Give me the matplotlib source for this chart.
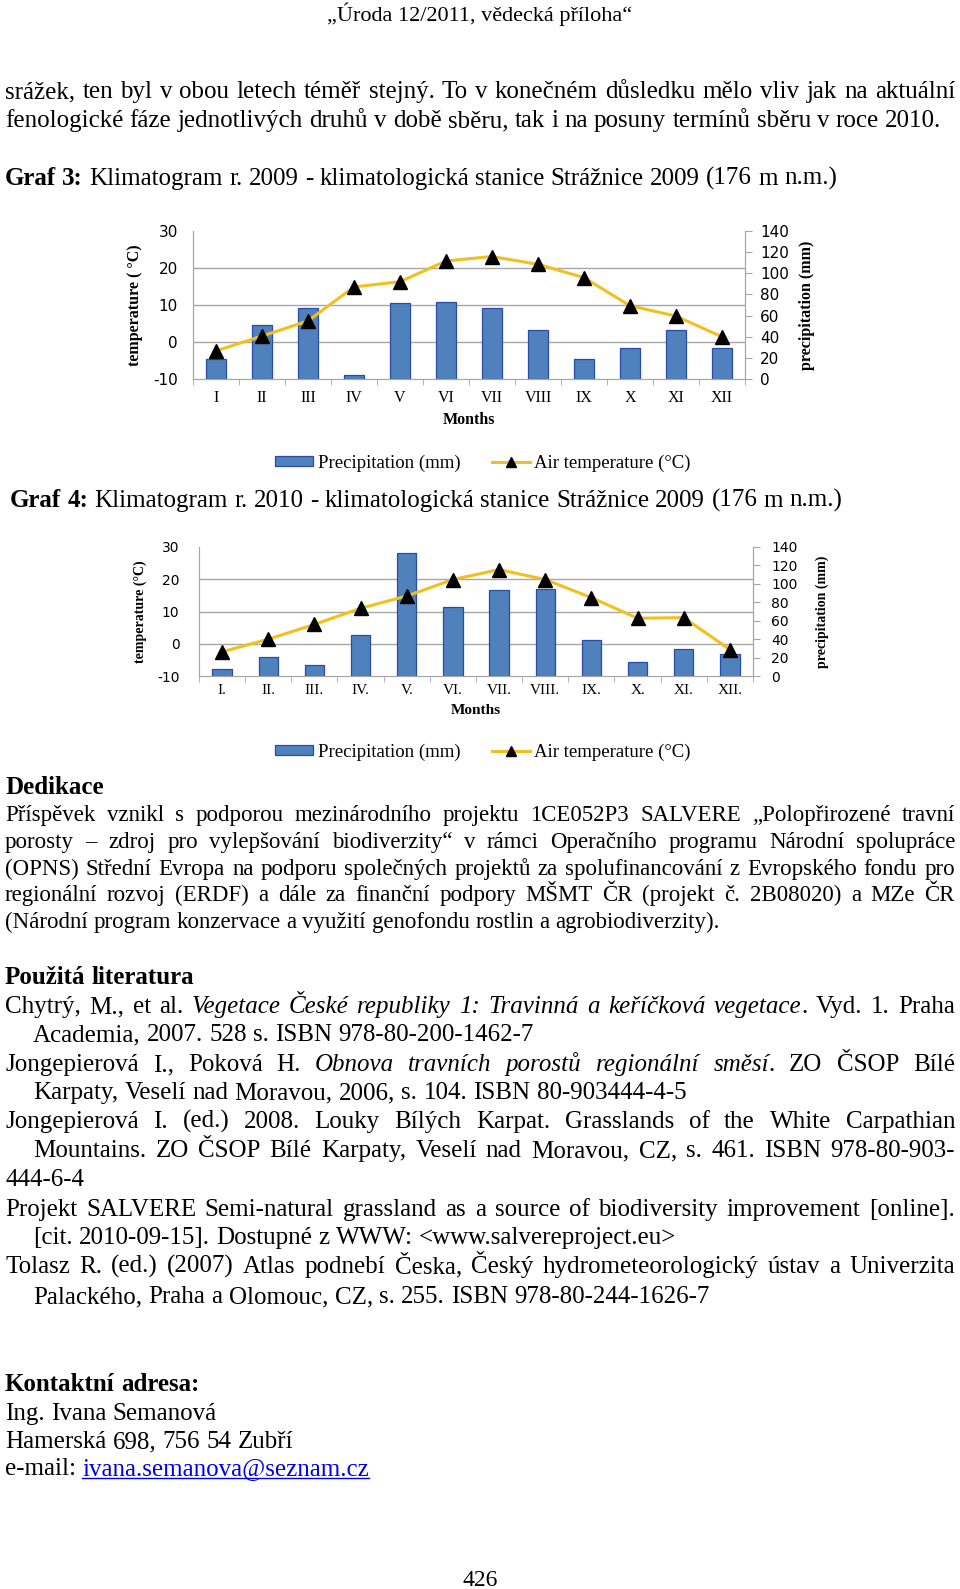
import matplotlib
matplotlib.use('Agg')
import matplotlib.pyplot as plt
import numpy as np
from matplotlib.lines import Line2D
from matplotlib.ticker import FixedLocator

# chart data read from the page
months_2009 = ['I', 'II', 'III', 'IV', 'V', 'VI', 'VII', 'VIII', 'IX', 'X', 'XI', 'XII']
temp_2009 = [-2.4, 1.6, 5.7, 14.9, 16.3, 21.9, 23.1, 21.0, 17.4, 9.8, 7.0, 1.4]
prec_2009 = [18.9, 51, 66.7, 3.5, 71.7, 72.6, 67, 46.5, 18.9, 28.9, 45.9, 28.9]

months_2010 = ['I.', 'II.', 'III.', 'IV.', 'V.', 'VI.', 'VII.', 'VIII.', 'IX.', 'X.', 'XI.', 'XII.']
temp_2010 = [-2.5, 1.4, 6.0, 11.0, 14.8, 19.9, 23.0, 19.9, 14.3, 7.9, 8.1, -1.8]
prec_2010 = [8, 21, 11.5, 44, 133, 75, 93.5, 94.5, 39.5, 15.6, 29.8, 23.6]

W, H = 960, 1589
SERIF = 'Liberation Serif'
NUMS = 'DejaVu Sans'
BAR = '#4F81BD'
BAR_EDGE = '#2A4BA8'
GOLD = '#F2C01E'
GRID = '#A6A6A6'
BODY = 18
SMALL = 16.5

plt.rcParams['axes.unicode_minus'] = False
fig = plt.figure(figsize=(W / 100, H / 100), dpi=100)
renderer = fig.canvas.get_renderer()


def fx(x):
    return x / W


def fy(y):
    return 1 - y / H


STY = {'n': {}, 'b': {'fontweight': 'bold'}, 'i': {'fontstyle': 'italic'},
       'u': {'color': '#0000EE'}}


def measure(s, st, size):
    t = fig.text(0, 0, s, fontsize=size, family=SERIF, **STY[st])
    w = t.get_window_extent(renderer).width
    t.remove()
    return w


def words_of(runs):
    words = []
    glue = False
    for text, st in runs:
        for k, p in enumerate(text.split(' ')):
            if k > 0:
                glue = False
            if not p:
                continue
            if glue and words:
                words[-1].append((p, st))
            else:
                words.append([(p, st)])
            glue = True
    return words


def put_line(y, runs, x0=5, x1=None, size=BODY):
    # y is the visual middle of the line in page pixels
    base = y + 7
    if isinstance(runs, str):
        runs = [(runs, 'n')]
    words = words_of(runs)
    widths = [[measure(p, st, size) for p, st in w] for w in words]
    if x1 is None or len(words) < 2:
        gap = measure('a a', 'n', size) - measure('aa', 'n', size)
    else:
        gap = (x1 - x0 - sum(sum(w) for w in widths)) / (len(words) - 1)
    x = x0
    for w, ws in zip(words, widths):
        for (p, st), pw in zip(w, ws):
            fig.text(fx(x), fy(base), p, fontsize=size, family=SERIF,
                     va='baseline', ha='left', **STY[st])
            if st == 'u':
                fig.add_artist(Line2D([fx(x), fx(x + pw)], [fy(base + 3)] * 2,
                                      color='#0000EE', lw=1))
            x += pw
        x += gap


def klimatogram(left, top, right, bottom, months, temp, prec, num_size,
                cat_size, lab_size, temp_label, lab_x, months_y, legend_y,
                lpad, rpad, xpad):
    ax = fig.add_axes([fx(left), fy(bottom), (right - left) / W, (bottom - top) / H])
    x = np.arange(len(months))
    ax.bar(x, prec, width=0.42, color=BAR, edgecolor=BAR_EDGE, linewidth=0.9,
           zorder=2, label='Precipitation (mm)')
    ax.set_ylim(0, 140)
    ax.set_xlim(-0.5, len(months) - 0.5)
    ax2 = ax.twinx()
    ax2.plot(x, temp, color=GOLD, lw=2.2, marker='^', ms=10, mfc='black',
             mec='black', label='Air temperature (°C)')
    ax2.set_ylim(-10, 30)
    ax2.set_yticks(range(-10, 31, 10))
    ax.set_yticks(range(0, 141, 20))
    ax.yaxis.tick_right()
    ax2.yaxis.tick_left()
    # grid follows the temperature scale, kept behind the bars
    ax.yaxis.set_minor_locator(FixedLocator([(t + 10) * 3.5 for t in ax2.get_yticks()]))
    ax.grid(axis='y', which='minor', color=GRID, lw=1)
    ax.set_axisbelow(True)
    ax.tick_params(axis='y', which='minor', length=0)
    ax.tick_params(axis='y', which='major', length=5, color=GRID, labelsize=num_size, pad=rpad)
    ax2.tick_params(axis='y', length=0, labelsize=num_size, pad=lpad)
    plt.setp(ax.get_yticklabels(), family=NUMS)
    plt.setp(ax2.get_yticklabels(), family=NUMS)
    ax.set_xticks(x)
    ax.set_xticklabels(months, family=SERIF, fontsize=cat_size)
    ax.set_xticks(np.arange(-0.5, len(months)), minor=True)
    ax.tick_params(axis='x', which='major', length=0, pad=xpad)
    ax.tick_params(axis='x', which='minor', length=4, color=GRID)
    for a in (ax, ax2):
        for s in a.spines.values():
            s.set_color(GRID)
        a.spines['top'].set_visible(False)
    mid = (top + bottom) / 2
    fig.text(fx(lab_x[0]), fy(mid), temp_label, rotation=90, ha='center', va='center',
             family=SERIF, fontweight='bold', fontsize=lab_size)
    fig.text(fx(lab_x[1]), fy(mid), 'precipitation (mm)', rotation=90, ha='center',
             va='center', family=SERIF, fontweight='bold', fontsize=lab_size)
    fig.text(fx((left + right) / 2), fy(months_y), 'Months', ha='center', va='center',
             family=SERIF, fontweight='bold', fontsize=cat_size)
    h1, l1 = ax.get_legend_handles_labels()
    h2, l2 = ax2.get_legend_handles_labels()
    fig.legend(h1 + h2, l1 + l2, loc='center', bbox_to_anchor=(fx(483), fy(legend_y)),
               ncol=2, frameon=False, prop={'family': SERIF, 'size': 13.5},
               handlelength=2.0, handleheight=0.4, handletextpad=0.25,
               columnspacing=1.7, markerscale=0.65)


# page text
fig.text(fx(480), fy(21), '„Úroda 12/2011, vědecká příloha“', ha='center',
         va='baseline', family=SERIF, fontsize=16)

put_line(91, 'srážek, ten byl v obou letech téměř stejný. To v konečném důsledku mělo vliv jak na aktuální', 5, 955)
put_line(120, 'fenologické fáze jednotlivých druhů v době sběru, tak i na posuny termínů sběru v roce 2010.')
put_line(178, [('Graf 3:', 'b'), (' Klimatogram r. 2009 - klimatologická stanice Strážnice 2009 (176 m n.m.)', 'n')])

klimatogram(193, 231, 745, 379, months_2009, temp_2009, prec_2009, num_size=11,
            cat_size=11.5, lab_size=11.5, temp_label='temperature ( °C)',
            lab_x=(135, 807), months_y=420, legend_y=463, lpad=11, rpad=6, xpad=8)

put_line(500, [('Graf 4:', 'b'), (' Klimatogram r. 2010 - klimatologická stanice Strážnice 2009 (176 m n.m.)', 'n')], 10)

klimatogram(199, 547, 753, 676, months_2010, temp_2010, prec_2010, num_size=10,
            cat_size=11, lab_size=10, temp_label='temperature (°C)',
            lab_x=(140, 822), months_y=711, legend_y=752, lpad=14, rpad=8, xpad=6)

put_line(787, [('Dedikace', 'b')])
put_line(814, 'Příspěvek vznikl s podporou mezinárodního projektu 1CE052P3 SALVERE „Polopřirozené travní', 5, 955, SMALL)
put_line(841, 'porosty – zdroj pro vylepšování biodiverzity“ v rámci Operačního programu Národní spolupráce', 5, 955, SMALL)
put_line(868, '(OPNS) Střední Evropa na podporu společných projektů za spolufinancování z Evropského fondu pro', 5, 955, SMALL)
put_line(894, 'regionální rozvoj (ERDF) a dále za finanční podpory MŠMT ČR (projekt č. 2B08020) a MZe ČR', 5, 955, SMALL)
put_line(921, '(Národní program konzervace a využití genofondu rostlin a agrobiodiverzity).', size=SMALL)

put_line(977, [('Použitá literatura', 'b')])
put_line(1006, [('Chytrý, M., et al. ', 'n'),
                ('Vegetace České republiky 1: Travinná a keříčková vegetace', 'i'),
                ('. Vyd. 1. Praha', 'n')], 5, 955)
put_line(1034, 'Academia, 2007. 528 s. ISBN 978-80-200-1462-7', 33)
put_line(1064, [('Jongepierová I., Poková H. ', 'n'),
                ('Obnova travních porostů regionální směsí', 'i'),
                ('. ZO ČSOP Bílé', 'n')], 5, 955)
put_line(1092, 'Karpaty, Veselí nad Moravou, 2006, s. 104. ISBN 80-903444-4-5', 33)
put_line(1121, 'Jongepierová I. (ed.) 2008. Louky Bílých Karpat. Grasslands of the White Carpathian', 5, 955)
put_line(1150, 'Mountains. ZO ČSOP Bílé Karpaty, Veselí nad Moravou, CZ, s. 461. ISBN 978-80-903-', 33, 955)
put_line(1179, '444-6-4')
put_line(1209, 'Projekt SALVERE Semi-natural grassland as a source of biodiversity improvement [online].', 5, 955)
put_line(1237, '[cit. 2010-09-15]. Dostupné z WWW: <www.salvereproject.eu>', 33)
put_line(1266, 'Tolasz R. (ed.) (2007) Atlas podnebí Česka, Český hydrometeorologický ústav a Univerzita', 5, 955)
put_line(1296, 'Palackého, Praha a Olomouc, CZ, s. 255. ISBN 978-80-244-1626-7', 33)

put_line(1384, [('Kontaktní adresa:', 'b')])
put_line(1413, 'Ing. Ivana Semanová')
put_line(1441, 'Hamerská 698, 756 54 Zubří')
put_line(1468, [('e-mail: ', 'n'), ('ivana.semanova@seznam.cz', 'u')])

fig.text(fx(480), fy(1586), '426', ha='center', va='baseline', family=SERIF, fontsize=17)

fig.savefig('out.png', dpi=100)
